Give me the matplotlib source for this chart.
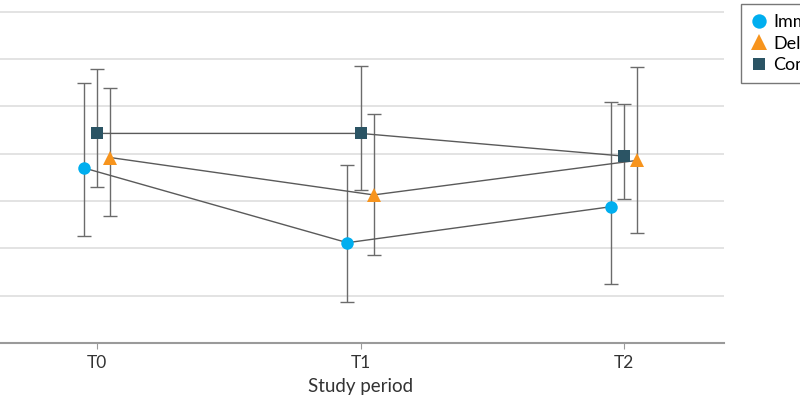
import numpy as np
import matplotlib.pyplot as plt

# Data (arbitrary y units, grid step = 1)
periods = ["T0", "T1", "T2"]
groups = ["Immediate", "Delayed", "Control"]

immediate_mean = [3.70, 2.12, 2.88]
immediate_low = [2.26, 0.87, 1.25]
immediate_high = [5.50, 3.76, 5.10]

delayed_mean = [3.92, 3.13, 3.86]
delayed_low = [2.68, 1.85, 2.33]
delayed_high = [5.38, 4.84, 5.84]

control_mean = [4.43, 4.43, 3.95]
control_low = [3.29, 3.23, 3.04]
control_high = [5.80, 5.86, 5.05]

plt.rcParams['font.family'] = ['Lato', 'DejaVu Sans']

fig = plt.figure(figsize=(8, 4), dpi=100)
ax = fig.add_axes([-3 / 800, 1 - 343 / 400, 727 / 800, 343 / 400])

x = np.arange(len(periods))
series = [
    (immediate_mean, immediate_low, immediate_high, -0.05, 'o', '#00AEEF', 9.0),
    (delayed_mean, delayed_low, delayed_high, 0.05, '^', '#F7941D', 10.0),
    (control_mean, control_low, control_high, 0.0, 's', '#2B5464', 8.0),
]

for (m, lo, hi, off, mk, col, ms), name in zip(series, groups):
    m = np.array(m)
    err = [m - np.array(lo), np.array(hi) - m]
    xs = x + off
    ax.errorbar(xs, m, yerr=err, fmt='none', ecolor='#6b6b6b', elinewidth=1,
                capsize=4.8, capthick=1, zorder=2)
    ax.plot(xs, m, color='#5a5a5a', lw=1, zorder=3)
    ax.plot(xs, m, linestyle='none', marker=mk, color=col, markersize=ms,
            markeredgewidth=0, zorder=4, label=name)

ax.set_xlim(-0.38, 2.38)
ax.set_ylim(0, 7.25)
ax.set_yticks(np.arange(1, 8))
ax.yaxis.grid(True, color='#dedede', lw=1.2)
ax.set_axisbelow(True)
ax.tick_params(axis='y', left=False, labelleft=False)
ax.set_xticks(x)
ax.set_xticklabels(periods, fontsize=12.5, color='#333333')
ax.tick_params(axis='x', length=4, color='#9a9a9a', pad=5)
for s in ['left', 'top', 'right']:
    ax.spines[s].set_visible(False)
ax.spines['bottom'].set_color('#9a9a9a')
ax.spines['bottom'].set_linewidth(1.5)
ax.set_xlabel("Study period", fontsize=13.5, color='#333333', labelpad=5)

handles, labels = ax.get_legend_handles_labels()
leg = fig.legend(handles, labels, loc='upper left',
                 bbox_to_anchor=(741 / 800, 1 - 4 / 400), frameon=True,
                 fancybox=False, fontsize=13, handletextpad=0.35,
                 handlelength=0.9, borderpad=0.55, labelspacing=0.32,
                 borderaxespad=0, markerscale=1.15)
leg.get_frame().set_edgecolor('#555555')
leg.get_frame().set_linewidth(1)

plt.savefig('out.png', dpi=100)
